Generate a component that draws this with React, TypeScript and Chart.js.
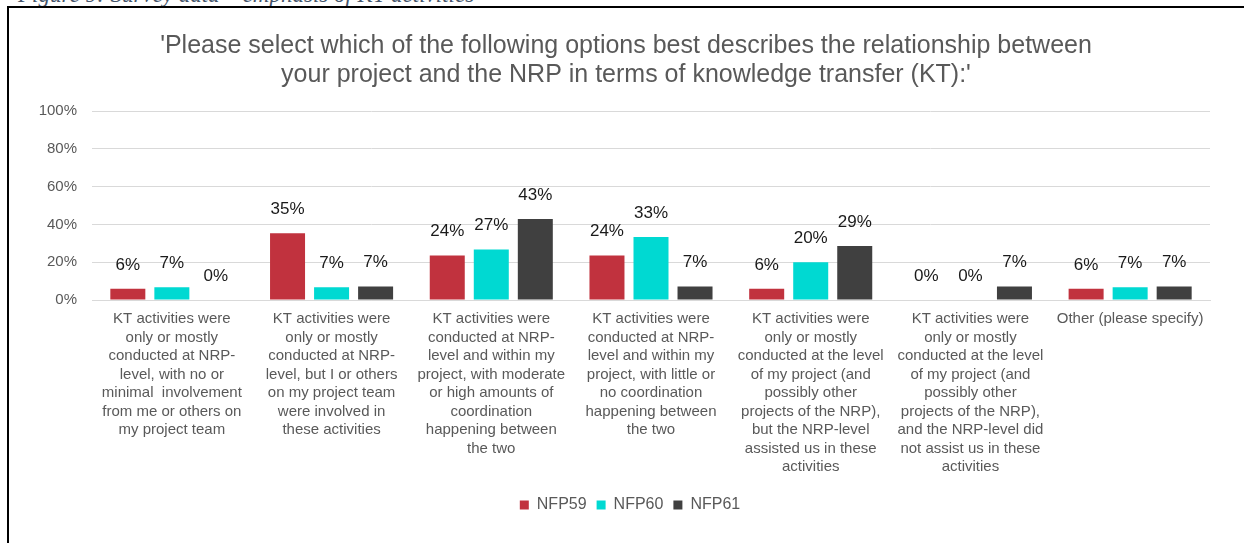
import React, { useEffect, useRef } from "react";
import { Chart, registerables } from "chart.js";

Chart.register(...registerables);

const categories: string[][] = [
  ["KT activities were", "only or mostly", "conducted at NRP-", "level, with no or", "minimal  involvement", "from me or others on", "my project team"],
  ["KT activities were", "only or mostly", "conducted at NRP-", "level, but I or others", "on my project team", "were involved in", "these activities"],
  ["KT activities were", "conducted at NRP-", "level and within my", "project, with moderate", "or high amounts of", "coordination", "happening between", "the two"],
  ["KT activities were", "conducted at NRP-", "level and within my", "project, with little or", "no coordination", "happening between", "the two"],
  ["KT activities were", "only or mostly", "conducted at the level", "of my project (and", "possibly other", "projects of the NRP),", "but the NRP-level", "assisted us in these", "activities"],
  ["KT activities were", "only or mostly", "conducted at the level", "of my project (and", "possibly other", "projects of the NRP),", "and the NRP-level did", "not assist us in these", "activities"],
  ["Other (please specify)"],
];

const seriesNames = ["NFP59", "NFP60", "NFP61"];
const nfp59 = [5.9, 35.3, 23.5, 23.5, 5.9, 0, 5.9];
const nfp60 = [6.7, 6.7, 26.7, 33.3, 20.0, 0, 6.7];
const nfp61 = [0, 7.1, 42.9, 7.1, 28.6, 7.1, 7.1];
const seriesColors = ["#C1323E", "#00D9D2", "#404040"];

const yTicks = [0, 20, 40, 60, 80, 100];

const titleLines = [
  "'Please select which of the following options best describes the relationship between",
  "your project and the NRP in terms of knowledge transfer (KT):'",
];

const FONT = "'Liberation Sans', Arial, sans-serif";

const valueLabels = {
  id: "valueLabels",
  afterDatasetsDraw(chart: any) {
    const ctx = chart.ctx;
    ctx.save();
    ctx.font = `17px ${FONT}`;
    ctx.fillStyle = "#1a1a1a";
    ctx.textAlign = "center";
    ctx.textBaseline = "middle";
    chart.data.datasets.forEach((ds: any, di: number) => {
      const meta = chart.getDatasetMeta(di);
      meta.data.forEach((el: any, i: number) => {
        const v = ds.data[i];
        ctx.fillText(Math.round(v) + "%", el.x, el.y - 24);
      });
    });
    ctx.restore();
  },
};

const boxShift = {
  id: "boxShift",
  afterLayout(chart: any) {
    const lg = chart.legend;
    if (lg) {
      lg.left += 19;
      lg.right += 19;
    }
    const tb = chart.titleBlock;
    if (tb) {
      tb.left += 15;
      tb.right += 15;
    }
  },
};

export default function App() {
  const ref = useRef<HTMLCanvasElement>(null);
  useEffect(() => {
    if (!ref.current) return;
    const chart = new Chart(ref.current, {
      type: "bar",
      data: {
        labels: categories,
        datasets: [nfp59, nfp60, nfp61].map((d, i) => ({
          label: seriesNames[i],
          data: d,
          backgroundColor: seriesColors[i],
          borderWidth: 0,
          categoryPercentage: 0.827,
          barPercentage: 0.795,
        })),
      },
      options: {
        responsive: false,
        animation: false,
        devicePixelRatio: 1,
        layout: { padding: { left: 12, right: 34, top: 0, bottom: 20 } },
        plugins: {
          tooltip: { enabled: false },
          title: {
            display: true,
            text: titleLines,
            color: "#595959",
            font: { family: FONT, size: 25, weight: "normal", lineHeight: "29px" },
            padding: { top: 32, bottom: 21 },
          },
          legend: {
            position: "bottom",
            labels: {
              color: "#595959",
              font: { family: FONT, size: 16 },
              boxWidth: 9,
              boxHeight: 9,
              padding: 10,
            },
          },
        },
        scales: {
          x: {
            grid: { display: false, drawTicks: false },
            border: { display: true, color: "#D9D9D9" },
            ticks: {
              color: "#595959",
              font: { family: FONT, size: 15, lineHeight: "18.5px" },
              padding: 10,
              maxRotation: 0,
              minRotation: 0,
              autoSkip: false,
            },
            afterFit(scale: any) {
              scale.height = 187;
            },
          },
          y: {
            min: 0,
            max: 100,
            afterBuildTicks(scale: any) {
              scale.ticks = yTicks.map((v) => ({ value: v }));
            },
            grid: { color: "#D9D9D9", drawTicks: false },
            border: { display: false },
            ticks: {
              color: "#595959",
              font: { family: FONT, size: 15 },
              padding: 15,
              callback: (v: any) => v + "%",
            },
            afterFit(scale: any) {
              scale.width = 80;
            },
          },
        },
      },
      plugins: [valueLabels, boxShift],
    } as any);
    return () => chart.destroy();
  }, []);

  return (
    <div style={{ position: "fixed", left: 0, top: 0, width: 1244, height: 543, background: "#fff", overflow: "hidden" }}>
      <div
        style={{
          position: "absolute",
          left: 18,
          top: -17,
          fontFamily: "'Liberation Serif', 'Times New Roman', serif",
          fontStyle: "italic",
          fontSize: 23,
          lineHeight: "23px",
          color: "#44546A",
          whiteSpace: "nowrap",
        }}
      >
        Figure 9: Survey data – emphasis of KT activities
      </div>
      <div
        style={{
          position: "absolute",
          left: 7,
          top: 6,
          width: 1300,
          height: 600,
          border: "2px solid #000",
        }}
      />
      <canvas ref={ref} width={1244} height={543} style={{ position: "absolute", left: 0, top: 0, width: 1244, height: 543 }} />
    </div>
  );
}
